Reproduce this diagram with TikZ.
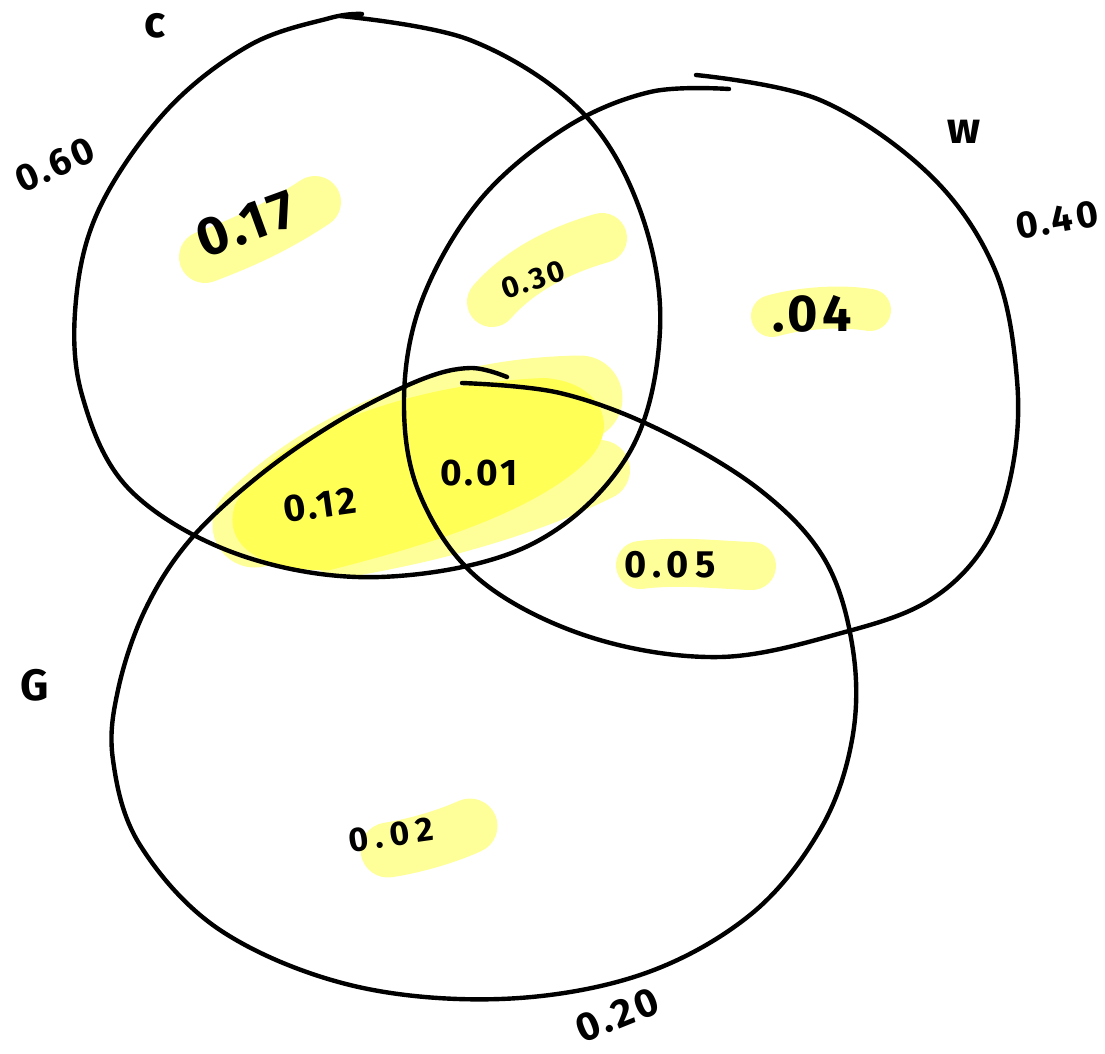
\documentclass[tikz,border=0pt]{standalone}
\usepackage{fontspec}
\setmainfont{Fira Sans}[LetterSpace=8]
\definecolor{hlight}{HTML}{FFFF99}
\definecolor{hstrong}{HTML}{FFFF55}
\newcommand{\fsz}[1]{\fontsize{#1}{#1}\selectfont\bfseries}
\begin{document}
\begin{tikzpicture}[x=1pt,y=-1pt,
  hl/.style={draw=hlight,line cap=round,line join=round},
  setline/.style={draw=black,line width=4.4pt,line cap=round,line join=round},
  lbl/.style={inner sep=0pt}]
\useasboundingbox[fill=white] (0,0) rectangle (1105,1053);
% highlighter strokes
\draw[hl,line width=52pt] (205,257) .. controls (250,240) and (280,225) .. (315,202);
\draw[hl,line width=50pt] (492,302) .. controls (520,270) and (560,250) .. (602,238);
\draw[hl,line width=42pt] (772,316) .. controls (800,308) and (840,305) .. (870,310);
\draw[hl,line width=48pt] (640,565) .. controls (680,560) and (720,565) .. (752,566);
\draw[hl,line width=55pt] (388,850) .. controls (420,845) and (450,835) .. (470,826);
% big blob light
\draw[hl,line width=85pt] (255,525) .. controls (330,450) and (450,400) .. (580,398);
\draw[hl,line width=60pt] (340,548) .. controls (450,530) and (540,500) .. (600,470);
% big blob strong
\fill[hstrong] (235,505) .. controls (270,430) and (420,382) .. (545,378)
  .. controls (600,382) and (620,425) .. (590,458)
  .. controls (540,510) and (430,545) .. (330,570)
  .. controls (260,572) and (222,545) .. cycle;
% C
\draw[setline] plot[smooth,tension=0.6] coordinates {(340,16) (470,40) (580,110) (640,210) (660,330) (628,455) (530,545) (380,577) (240,555) (130,490) (82,395) (76,300) (100,207) (167,110) (250,45) (330,18) (362,14)};
% W
\draw[setline] plot[smooth,tension=0.6] coordinates {(696,75) (820,100) (930,175) (995,270) (1017,380) (1012,470) (985,545) (930,600) (845,632) (720,657) (590,637) (480,580) (420,495) (404,400) (422,300) (480,200) (565,128) (650,92) (729,89)};
% G
\draw[setline] plot[smooth,tension=0.6] coordinates {(462,383) (560,393) (660,430) (760,490) (825,560) (853,650) (852,740) (820,830) (750,915) (640,975) (500,999) (350,985) (220,930) (140,845) (113,760) (118,690) (145,610) (190,540) (260,475) (340,420) (420,380) (470,368) (507,377)};
% set labels
\node[lbl,font=\fsz{44}] (cC) at (155,26) {c};
\node[lbl,font=\fsz{38},rotate=24] (cCp) at (55,165) {0.60};
\node[lbl,font=\fsz{44}] (cW) at (964,132) {w};
\node[lbl,font=\fsz{38},rotate=10] (cWp) at (1057,220) {0.40};
\node[lbl,font=\fsz{44}] (cG) at (35,685) {G};
\node[lbl,font=\fsz{40},rotate=22] (cGp) at (617,1015) {0.20};
% region values
\node[lbl,font=\fsz{54},rotate=20] (r17) at (246,224) {0.17};
\node[lbl,font=\fsz{30},rotate=18] (r30) at (533,280) {0.30};
\node[lbl,font=\fsz{52}] (r04) at (812,314) {.04};
\node[lbl,font=\fsz{38},rotate=8] (r12) at (320,505) {0.12};
\node[lbl,font=\fsz{37}] (r01) at (479,473) {0.01};
\node[lbl,font=\fsz{38}\addfontfeatures{LetterSpace=16}] (r05) at (670,565) {0.05};
\node[lbl,font=\fsz{34}\addfontfeatures{LetterSpace=20},rotate=8] (r02) at (391,835) {0.02};
\end{tikzpicture}
\end{document}
